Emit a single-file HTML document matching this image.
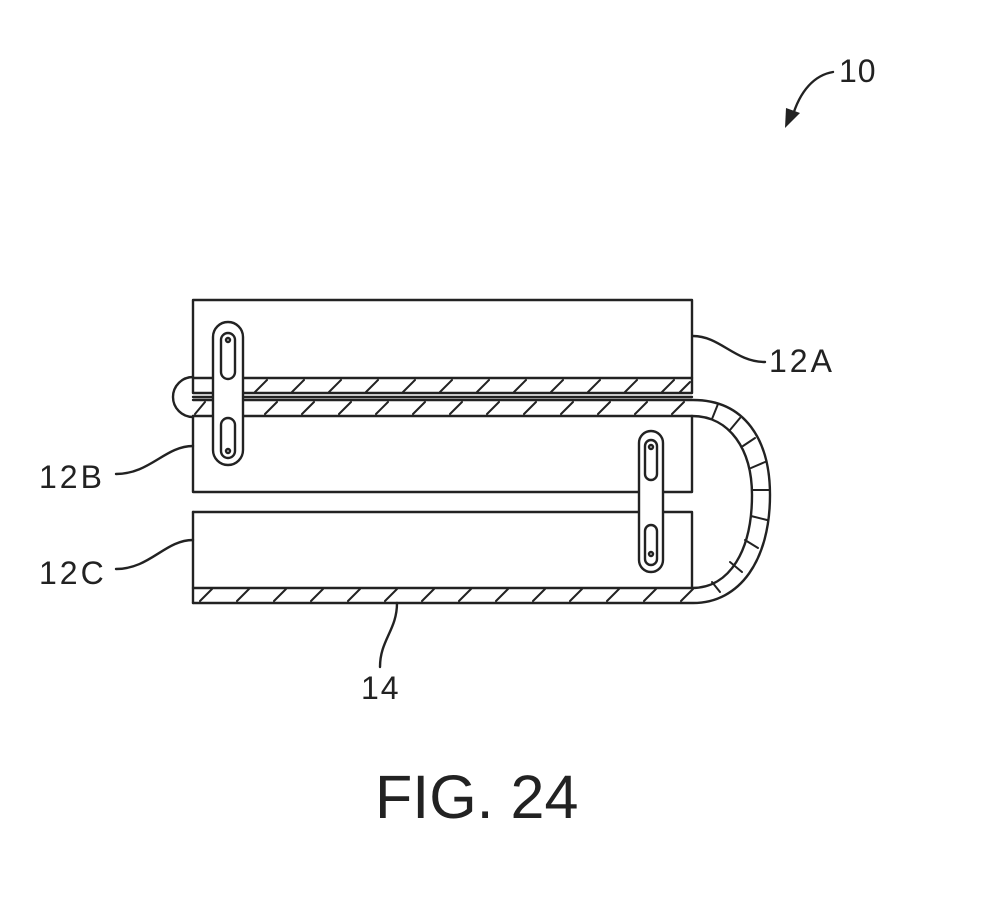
<!DOCTYPE html>
<html><head><meta charset="utf-8"><style>
html,body{margin:0;padding:0;background:#fff;}
svg{display:block;}
text{font-family:"Liberation Sans",Arial,sans-serif;fill:#222;}
</style></head><body>
<svg width="989" height="900" viewBox="0 0 989 900" xmlns="http://www.w3.org/2000/svg">
<g fill="none" stroke="#222" stroke-width="2.4" stroke-linecap="round" stroke-linejoin="round">
  <rect x="193" y="300" width="499" height="93" fill="#fff"/>
  <line x1="193" y1="378" x2="692" y2="378"/>
  <path d="M193 416 V492 H692 V416"/>
  <path d="M193 512 H692 V588"/>
  <line x1="193" y1="512" x2="193" y2="603"/>
  <path d="M193 377 A20 20 0 0 0 193 417" />
  <path d="M193 397 H692"/>
  <path d="M193 400 H693 C745 400 770 440 770 495 C770 560 740 603 693 603 H193" fill="none"/>
  <path d="M193 416 H692 C730 416 752 450 752 495 C752 550 730 588 692 588 H193"/>
  <g stroke-width="2">
    <path d="M255 392 l12 -12 M292 392 l12 -12 M329 392 l12 -12 M366 392 l12 -12 M403 392 l12 -12 M440 392 l12 -12 M477 392 l12 -12 M514 392 l12 -12 M551 392 l12 -12 M588 392 l12 -12 M625 392 l12 -12 M662 392 l12 -12 M680 392 l10 -10"/>
    <path d="M195 414 l10 -12 M265 414 l12 -12 M302 414 l12 -12 M339 414 l12 -12 M376 414 l12 -12 M413 414 l12 -12 M450 414 l12 -12 M487 414 l12 -12 M524 414 l12 -12 M561 414 l12 -12 M598 414 l12 -12 M635 414 l12 -12 M672 414 l12 -12"/>
    <path d="M200 601 l12 -12 M237 601 l12 -12 M274 601 l12 -12 M311 601 l12 -12 M348 601 l12 -12 M385 601 l12 -12 M422 601 l12 -12 M459 601 l12 -12 M496 601 l12 -12 M533 601 l12 -12 M570 601 l12 -12 M607 601 l12 -12 M644 601 l12 -12 M681 601 l12 -12"/>
    <path d="M718 404 l-6 15 M740 418 l-10 12 M755 438 l-12 8 M765 462 l-14 6 M769 490 l-17 0 M767 520 l-16 -4 M758 548 l-13 -8 M742 572 l-12 -10 M720 592 l-8 -10"/>
  </g>
  <rect x="213" y="322" width="30" height="143" rx="15" fill="#fff"/>
  <rect x="221" y="333" width="14" height="46" rx="7"/>
  <rect x="221" y="418" width="14" height="40" rx="7"/>
  <circle cx="228" cy="340" r="2"/><circle cx="228" cy="451" r="2"/>
  <rect x="639" y="431" width="24" height="141" rx="12" fill="#fff"/>
  <rect x="645" y="440" width="12" height="40" rx="6"/>
  <rect x="645" y="525" width="12" height="40" rx="6"/>
  <circle cx="651" cy="447" r="2"/><circle cx="651" cy="554" r="2"/>
  <path d="M693 336 C720 336 735 362 765 362"/>
  <path d="M116 474 C150 474 165 446 193 446"/>
  <path d="M116 569 C150 569 165 540 193 540"/>
  <path d="M397 603 C397 630 380 640 380 667"/>
  <path d="M833 72 C815 75 800 90 792 118"/>
</g>
<path d="M785 128 L786 108 L800 113 Z" fill="#222"/>
<text x="839" y="82" font-size="32" letter-spacing="1">10</text>
<text x="769" y="372" font-size="32" letter-spacing="3">12A</text>
<text x="39" y="488" font-size="32" letter-spacing="3">12B</text>
<text x="39" y="584" font-size="32" letter-spacing="3">12C</text>
<text x="361" y="699" font-size="32" letter-spacing="2">14</text>
<text x="375" y="818" font-size="61">FIG. 24</text>
</svg>
</body></html>
